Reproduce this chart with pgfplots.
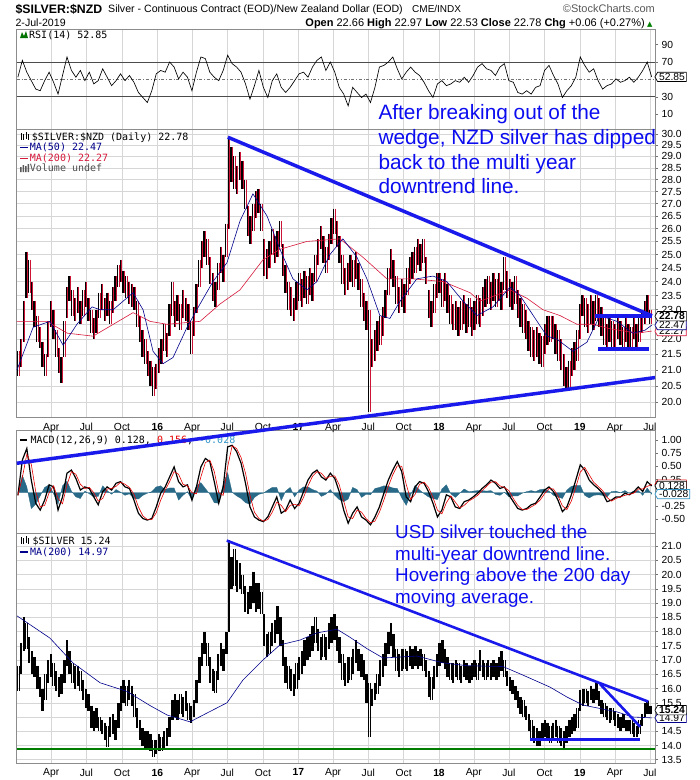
\documentclass[border=0pt]{standalone}
\usepackage{pgfplots}
\pgfplotsset{compat=1.18}
\usepackage{pgfplotstable}
\usepackage{fontspec}
\setmainfont{Liberation Sans}
\newfontfamily\legfont{DejaVu Sans Mono}
\newfontfamily\symfont{DejaVu Sans}
\usetikzlibrary{shapes.symbols}

\definecolor{trend}{RGB}{25,25,235}
\definecolor{maA}{RGB}{0,0,140}
\definecolor{maB}{RGB}{215,25,60}
\definecolor{barred}{RGB}{205,20,55}
\definecolor{histc}{RGB}{40,105,135}
\definecolor{gridc}{RGB}{214,214,214}
\definecolor{annot}{RGB}{12,12,240}
\definecolor{supp}{RGB}{0,125,0}
\definecolor{sigc}{RGB}{230,0,0}
\definecolor{histtxt}{RGB}{50,150,200}

\pgfplotsset{
  panel/.style={
    scale only axis, width=638.3pt,
    xmin=0.1, xmax=236.5,
    axis line style={draw=black!45, line width=0.6pt},
    xtick={12.9,25.9,39.1,52.2,65.1,78.1,91.3,104.4,117.3,130.3,143.4,156.5,169.4,182.4,195.6,208.7,221.6,234.6},
    xticklabels={},
    xmajorgrids,
    grid style={draw=gridc, line width=0.5pt},
    xtick style={draw=none},
    ytick pos=right, yticklabel pos=right,
    ytick style={draw=black!55, line width=0.5pt},
    major tick length=3pt, tick align=outside,
    tick label style={font=\fontsize{10.3}{12}\selectfont, text=black},
    anchor=north west,
  },
  datelabels/.style={
    xticklabels={Apr,Jul,Oct,\textbf{16},Apr,Jul,Oct,\textbf{17},Apr,Jul,Oct,\textbf{18},Apr,Jul,Oct,\textbf{19},Apr,Jul},
    xticklabel style={yshift=1pt},
  },
  hlbars/.style 2 args={draw=none, mark=none, forget plot,
    error bars/.cd, y dir=minus, y explicit, error mark=none,
    error bar style={draw=#1, line width=#2, solid}},
}
\tikzset{tagst/.style={fill=white, signal, signal to=west, signal pointer angle=120, inner xsep=1.5pt, inner ysep=1pt, line width=0.7pt, anchor=west, text=black}}
\newcommand{\vtag}[4]{\node[tagst, draw=#1, font=\fontsize{10.3}{11}\selectfont#4] at (654.5pt,-#2pt) {#3};}
\newcommand{\leg}[4]{\node[anchor=base west, inner sep=0pt, text=#1, font=\legfont\fontsize{10}{12}\selectfont] at (#2pt,-#3pt) {#4};}

\pgfplotstableread{
lo hi
20.8 21.6
21.1 22.0
21.9 23.3
23.4 25.1
23.6 24.8
23.0 24.0
22.4 23.3
21.9 22.8
21.7 22.4
21.1 21.9
20.8 21.5
21.4 22.6
22.4 23.3
22.0 23.0
21.4 22.3
20.9 21.7
20.6 21.4
21.4 22.6
22.7 23.8
23.3 24.2
22.8 23.7
22.6 23.4
22.9 23.8
22.5 23.3
22.8 23.7
23.1 24.0
22.6 23.4
22.2 23.0
22.0 22.7
22.2 23.0
22.7 23.6
23.0 23.9
22.6 23.4
22.8 23.6
22.5 23.3
22.9 23.8
23.3 24.2
23.8 24.6
24.0 24.8
23.6 24.4
23.4 24.2
23.2 24.0
23.1 23.9
23.0 23.8
22.4 23.3
21.9 22.8
21.4 22.3
21.2 22.0
20.8 21.6
20.5 21.3
20.2 21.1
20.4 21.2
20.9 21.7
21.2 22.0
21.6 22.5
21.4 22.2
22.1 23.2
22.8 24.0
22.4 23.3
22.6 23.5
22.3 23.2
22.7 23.7
22.6 23.4
22.3 23.2
21.5 22.6
22.1 23.1
22.9 23.9
23.8 24.8
24.5 25.5
24.9 25.9
24.6 25.6
23.9 24.9
23.3 24.3
23.1 24.0
23.7 24.7
24.3 25.3
24.0 25.0
24.9 26.2
26.0 29.85
27.9 29.4
27.6 29.0
27.4 28.6
28.0 29.2
27.6 28.8
26.8 28.0
25.7 26.9
25.4 26.5
25.9 27.0
26.4 27.5
26.6 27.6
25.9 27.0
24.2 25.6
24.1 25.2
24.5 25.5
25.0 26.0
24.7 25.7
24.9 25.9
25.3 26.3
24.2 25.4
23.6 24.6
23.0 24.0
22.8 23.8
22.6 23.4
23.0 24.0
23.3 24.3
23.1 24.1
23.4 24.4
23.2 24.2
23.5 24.5
23.3 24.3
24.0 25.0
24.6 25.6
25.2 26.1
24.7 25.7
24.3 25.3
24.8 25.8
25.4 26.4
25.8 26.8
25.3 26.3
24.7 25.7
23.9 25.0
23.5 24.5
23.7 24.7
24.0 25.0
23.8 24.8
24.1 25.1
23.7 24.7
23.1 24.1
22.6 23.6
22.3 23.3
19.7 23.0
21.1 22.0
21.3 22.3
21.6 22.6
21.8 22.8
22.1 23.1
22.7 23.7
23.5 24.5
24.1 25.2
23.8 24.8
23.2 24.2
22.9 23.8
23.1 24.1
22.9 23.9
23.5 24.5
23.9 24.9
24.1 25.1
24.3 25.3
24.6 25.6
24.4 25.4
24.7 25.6
23.9 24.9
22.7 23.7
22.4 23.3
22.9 23.9
23.4 24.3
23.6 24.3
23.1 24.1
23.3 24.3
22.9 23.9
22.5 23.5
22.3 23.2
22.3 23.3
22.1 23.1
22.3 23.3
22.5 23.5
22.2 23.2
22.4 23.4
22.1 23.1
22.3 23.3
22.5 23.5
22.4 23.4
22.8 23.8
23.1 24.1
23.2 24.2
23.0 24.0
23.3 24.3
23.1 24.1
23.3 24.3
23.0 24.0
23.7 24.9
23.4 24.4
23.1 24.1
23.0 24.0
23.2 24.2
22.7 23.7
22.4 23.4
22.2 23.2
22.0 23.0
21.6 22.6
21.4 22.4
21.3 22.3
21.4 22.4
21.2 22.2
21.1 22.1
21.5 22.5
21.8 22.8
21.9 22.8
22.0 22.8
21.5 22.5
21.3 22.3
21.0 22.0
20.5 21.5
20.35 21.1
20.4 21.3
20.8 21.7
21.0 21.9
21.3 22.3
22.0 23.2
22.8 23.5
22.4 23.4
22.2 23.2
22.5 23.5
22.3 23.3
22.6 23.5
22.4 23.4
22.1 23.1
21.8 22.7
21.7 22.5
21.9 22.8
21.7 22.6
21.7 22.5
22.0 22.8
21.8 22.6
21.7 22.4
21.9 22.7
21.7 22.5
21.7 22.4
22.0 22.8
21.7 22.5
21.9 22.7
22.2 23.0
22.5 23.3
22.8 23.5
22.5 23.0
}\nzd

\pgfplotstableread{
lo hi
15.9 16.8
16.5 17.6
17.3 18.5
17.4 18.3
16.9 17.8
16.5 17.3
16.4 17.1
16.0 16.8
15.7 16.4
15.2 16.0
15.6 16.5
16.2 17.0
16.4 17.2
16.1 16.9
15.9 16.6
15.7 16.4
15.8 16.5
16.2 17.0
16.8 17.7
16.5 17.3
16.2 16.9
16.0 16.8
16.1 16.8
15.9 16.6
15.6 16.3
15.3 16.0
15.2 15.8
14.6 15.4
14.5 15.2
14.6 15.3
14.5 15.0
14.4 14.9
14.2 14.8
13.95 14.7
14.3 15.0
14.4 15.1
14.2 14.9
14.6 15.5
15.2 16.1
15.5 16.3
15.4 16.1
15.6 16.3
15.4 16.1
15.0 15.8
14.6 15.3
14.2 14.9
14.0 14.6
13.9 14.5
13.9 14.5
13.8 14.4
13.6 14.2
13.7 14.2
13.8 14.4
13.8 14.3
13.9 14.5
14.0 14.6
14.3 15.0
14.9 15.6
15.0 15.8
14.9 15.6
15.1 15.8
15.0 15.7
15.2 15.9
14.9 15.5
14.8 15.4
15.0 15.6
15.5 16.3
16.2 17.1
16.8 17.6
17.2 18.0
16.8 17.6
16.2 17.1
15.9 16.7
15.85 16.6
16.3 17.2
16.8 17.6
16.6 17.4
17.2 18.0
18.0 21.2
19.5 20.6
19.6 20.9
19.4 20.5
19.5 20.4
19.3 20.0
18.7 19.6
18.6 19.4
18.8 19.6
19.0 20.1
18.7 19.7
18.8 19.7
18.6 19.4
17.5 18.6
17.1 17.9
17.2 18.0
17.5 18.3
17.6 18.4
17.9 18.9
17.5 18.5
16.8 17.7
16.2 17.1
16.0 16.8
15.9 16.7
15.75 16.5
16.0 16.9
16.3 17.1
16.5 17.3
16.8 17.7
17.0 17.8
17.1 17.9
17.3 18.2
17.6 18.5
17.3 18.1
17.0 17.8
17.1 17.9
17.0 17.8
17.4 18.3
17.6 18.5
17.7 18.6
17.3 18.2
16.9 17.8
16.3 17.2
16.1 16.9
16.2 17.1
16.3 17.1
16.5 17.4
16.9 17.7
16.6 17.4
16.4 17.2
16.3 17.0
15.5 16.5
14.3 16.2
15.4 16.0
15.6 16.2
15.8 16.5
16.1 17.0
16.4 17.2
16.8 17.6
17.2 18.0
17.5 18.3
17.1 17.9
16.6 17.4
16.4 17.2
16.6 17.4
16.7 17.4
16.6 17.3
16.8 17.5
16.7 17.4
16.8 17.5
16.7 17.3
16.8 17.4
16.6 17.2
16.4 17.0
15.7 16.6
15.6 16.4
16.0 16.8
16.4 17.2
16.8 17.6
16.9 17.7
16.7 17.4
16.4 17.1
16.3 16.9
16.2 16.9
16.4 17.0
16.3 16.9
16.2 16.8
16.4 17.0
16.3 16.9
16.2 16.8
16.3 16.9
16.4 17.0
16.3 16.9
16.6 17.35
16.4 17.0
16.3 16.9
16.4 17.0
16.3 16.9
16.4 17.0
16.3 16.9
16.4 17.1
16.6 17.3
16.4 17.0
16.1 16.6
15.9 16.4
15.8 16.3
15.6 16.1
15.3 15.9
15.1 15.7
15.0 15.6
14.9 15.4
14.5 15.1
14.2 14.9
14.1 14.7
14.0 14.6
14.0 14.5
14.2 14.8
14.3 14.9
14.2 14.8
14.1 14.7
14.2 14.8
14.3 14.9
14.1 14.7
14.0 14.6
13.85 14.5
14.1 14.7
14.3 14.9
14.4 15.0
14.5 15.1
14.6 15.3
15.2 15.95
15.4 16.0
15.5 16.0
15.4 15.9
15.6 16.1
15.5 16.0
15.6 16.2
15.4 15.9
15.1 15.6
15.0 15.5
14.9 15.4
14.8 15.3
14.9 15.3
14.7 15.2
14.6 15.1
14.5 15.0
14.6 15.1
14.5 14.9
14.5 14.9
14.4 14.9
14.3 14.8
14.3 14.7
14.4 14.9
14.7 15.1
15.0 15.5
15.1 15.55
15.1 15.4
}\usd

\pgfplotstableread{
v
52.5
71.9
58.3
48.6
38.9
37.0
48.6
58.3
46.7
33.1
54.5
75.8
60.3
52.5
60.3
48.6
58.3
44.8
48.6
62.2
52.5
42.8
48.6
56.4
48.6
54.5
46.7
35.0
29.2
23.4
37.0
56.4
60.3
58.3
70.0
64.2
50.6
58.3
52.5
37.0
58.3
75.8
73.9
58.3
52.5
48.6
60.3
77.8
68.1
64.2
58.3
44.8
27.3
42.8
60.3
40.9
29.2
48.6
56.4
40.9
35.0
40.9
48.6
56.4
58.3
52.5
64.2
71.9
75.8
60.3
70.0
58.3
40.9
33.1
19.5
40.9
35.0
29.2
33.1
23.4
40.9
64.2
66.1
70.0
75.8
62.2
50.6
58.3
64.2
58.3
54.5
46.7
37.0
29.2
44.8
48.6
42.8
44.8
48.6
46.7
52.5
46.7
54.5
64.2
68.1
62.2
60.3
54.5
64.2
68.1
48.6
46.7
35.0
33.1
37.0
33.1
40.9
42.8
60.3
66.1
54.5
44.8
29.2
37.0
42.8
52.5
75.8
66.1
58.3
62.2
48.6
38.9
42.8
44.8
50.6
46.7
48.6
52.5
46.7
52.5
60.3
70.0
52.85
}\rsi

\pgfplotstableread{
m s h
-0.05 -0.05 0.00
0.62 0.29 0.33
0.84 0.73 0.11
0.24 0.54 -0.30
-0.20 0.02 -0.22
-0.33 -0.27 -0.06
-0.14 -0.24 0.10
0.15 0.00 0.15
0.11 0.13 -0.02
-0.33 -0.11 -0.22
-0.08 -0.21 0.13
0.37 0.15 0.22
0.43 0.40 0.03
0.27 0.35 -0.08
0.05 0.16 -0.11
0.11 0.08 0.03
0.08 0.10 -0.02
-0.08 0.00 -0.08
-0.23 -0.16 -0.07
0.02 -0.11 0.13
0.11 0.07 0.04
0.05 0.08 -0.03
0.18 0.12 0.06
0.21 0.20 0.01
0.11 0.16 -0.05
0.08 0.10 -0.02
-0.14 -0.03 -0.11
-0.39 -0.27 -0.12
-0.49 -0.44 -0.05
-0.52 -0.51 -0.01
-0.49 -0.51 0.02
-0.27 -0.38 0.11
-0.01 -0.14 0.13
0.11 0.05 0.06
0.30 0.21 0.09
0.49 0.40 0.09
0.21 0.35 -0.14
0.11 0.16 -0.05
0.15 0.13 0.02
-0.14 0.00 -0.14
0.11 -0.02 0.13
0.49 0.30 0.19
0.65 0.57 0.08
0.59 0.62 -0.03
0.21 0.40 -0.19
-0.20 0.00 -0.20
0.11 -0.05 0.16
0.87 0.49 0.38
0.90 0.89 0.01
0.78 0.84 -0.06
0.56 0.67 -0.11
0.18 0.37 -0.19
-0.27 -0.05 -0.22
-0.46 -0.37 -0.09
-0.52 -0.49 -0.03
-0.55 -0.54 -0.01
-0.46 -0.51 0.05
-0.27 -0.37 0.10
-0.08 -0.18 0.10
-0.39 -0.24 -0.15
-0.33 -0.36 0.03
-0.14 -0.24 0.10
-0.30 -0.22 -0.08
-0.20 -0.25 0.05
0.02 -0.09 0.11
0.24 0.13 0.11
0.37 0.31 0.06
0.43 0.40 0.03
0.30 0.37 -0.07
0.24 0.27 -0.03
0.37 0.31 0.06
0.27 0.32 -0.05
0.02 0.15 -0.13
-0.33 -0.16 -0.17
-0.58 -0.46 -0.12
-0.39 -0.49 0.10
-0.27 -0.33 0.06
-0.46 -0.37 -0.09
-0.52 -0.49 -0.03
-0.61 -0.57 -0.04
-0.46 -0.54 0.08
-0.27 -0.37 0.10
-0.01 -0.14 0.13
0.24 0.12 0.12
0.43 0.34 0.09
0.59 0.51 0.08
0.40 0.50 -0.10
-0.08 0.16 -0.24
-0.17 -0.13 -0.04
0.11 -0.03 0.14
0.21 0.16 0.05
0.18 0.20 -0.02
0.02 0.10 -0.08
-0.20 -0.09 -0.11
-0.46 -0.33 -0.13
-0.33 -0.40 0.07
-0.04 -0.19 0.15
-0.08 -0.06 -0.02
-0.27 -0.18 -0.09
-0.30 -0.29 -0.01
-0.17 -0.24 0.07
-0.14 -0.16 0.02
-0.08 -0.11 0.03
-0.01 -0.05 0.04
0.08 0.04 0.04
0.15 0.12 0.03
0.24 0.20 0.04
0.18 0.21 -0.03
0.08 0.13 -0.05
0.11 0.10 0.01
-0.04 0.04 -0.08
-0.17 -0.11 -0.06
-0.30 -0.24 -0.06
-0.33 -0.32 -0.01
-0.30 -0.32 0.02
-0.23 -0.27 0.04
-0.20 -0.22 0.02
-0.08 -0.14 0.06
0.05 -0.02 0.07
0.11 0.08 0.03
0.02 0.07 -0.05
-0.14 -0.06 -0.08
-0.36 -0.25 -0.11
-0.27 -0.32 0.05
-0.04 -0.16 0.12
0.24 0.10 0.14
0.53 0.39 0.14
0.43 0.48 -0.05
0.24 0.34 -0.10
0.15 0.20 -0.05
0.08 0.12 -0.04
-0.01 0.04 -0.05
-0.17 -0.09 -0.08
-0.14 -0.16 0.02
-0.08 -0.11 0.03
-0.08 -0.08 0.00
-0.01 -0.05 0.04
-0.04 -0.03 -0.01
0.02 -0.01 0.03
0.11 0.07 0.04
0.02 0.07 -0.05
0.21 0.12 0.09
0.128 0.156 -0.028
}\macd

\begin{document}
\begin{tikzpicture}
\useasboundingbox (0,0) rectangle (700pt,-780pt);
\fill[white] (0,0) rectangle (700pt,-780pt);

% ---------------- RSI panel ----------------
\begin{axis}[panel, at={(16.7pt,-29.3pt)}, height=100.2pt,
  ymin=-7.6, ymax=107.6, ytick={10,30,70,90}, yticklabels={10,30,70,90}]
\addplot[black!70, line width=0.8pt] coordinates {(0.1,70) (236.5,70)};
\addplot[black!70, line width=0.8pt] coordinates {(0.1,30) (236.5,30)};
\addplot[black!55, line width=0.6pt, dash dot] coordinates {(0.1,50) (236.5,50)};
\addplot[black, line width=0.65pt] table[x expr=0.54+1.653*\coordindex, y=v] {\rsi};
\end{axis}

% ---------------- MACD panel ----------------
\begin{axis}[panel, at={(16.7pt,-430.7pt)}, height=102.6pt,
  ymin=-0.771, ymax=1.177, ytick={-0.5,-0.25,0.25,0.5,0.75,1},
  yticklabels={-0.50,-0.25,0.25,0.50,0.75,1.00}]
\addplot[fill=histc, draw=histc, line width=0.3pt] table[x expr=0.54+1.653*\coordindex, y=h] {\macd} \closedcycle;
\addplot[black, line width=1.2pt] table[x expr=0.54+1.653*\coordindex, y=m] {\macd};
\addplot[sigc, line width=0.6pt] table[x expr=0.54+1.653*\coordindex, y=s] {\macd};
\end{axis}
\draw[black, line width=2pt] (20pt,-440pt) -- (27pt,-440pt);
\node[anchor=base west, inner sep=0pt, font=\legfont\fontsize{10}{12}\selectfont] at (30.4pt,-443.6pt) {MACD(12,26,9) 0.128, \textcolor{sigc}{0.156}, \textcolor{histtxt}{-0.028}};

% ---------------- USD panel ----------------
\begin{axis}[panel, datelabels, at={(16.7pt,-533.3pt)}, height=230pt,
  ymin=13.375, ymax=21.446, ymajorgrids,
  ytick={13.5,14,14.5,15,15.5,16,16.5,17,17.5,18,18.5,19,19.5,20,20.5,21},
  yticklabels={13.5,14.0,14.5,,15.5,16.0,16.5,17.0,17.5,18.0,18.5,19.0,19.5,20.0,20.5,21.0}]
\addplot[hlbars={black}{1.2pt}]
  table[x expr=\coordindex+0.5, y=hi, y error expr=\thisrow{hi}-\thisrow{lo}] {\usd};
\addplot[hlbars={black}{1.1pt}]
  table[x expr=\coordindex+1.0, y=hi, y error expr=\thisrow{hi}-\thisrow{lo}] {\usd};
\addplot[maA, line width=0.6pt] coordinates {(0.2,18.55) (12.4,17.77) (20.9,16.9) (31.0,16.2) (40.9,15.9) (49.5,15.4) (55.8,15.07) (64.3,14.83) (70.6,15.14) (78.0,15.5) (83.9,16.3) (91.3,17.0) (97.6,17.53) (105.0,17.7) (111.3,17.95) (118.7,18.08) (123.5,17.8) (129.8,17.4) (135.8,17.07) (148.3,17.14) (158.0,16.9) (166.9,16.8) (180.2,16.77) (187.6,16.47) (197.6,16.05) (203.9,15.7) (209.8,15.42) (222.4,15.18) (228.3,15.0) (235.3,14.97)};
\addplot[supp, line width=2pt] coordinates {(0.1,13.88) (236.5,13.88)};
\addplot[trend, line width=2.6pt] coordinates {(77.9,21.19) (234.0,15.54)};
\addplot[trend, line width=2.6pt] coordinates {(216.1,16.16) (231.0,14.66)};
\addplot[trend, line width=2.6pt] coordinates {(190.2,14.22) (231.0,14.22)};
\end{axis}
\draw[black, line width=0.8pt] (21pt,-537pt) -- (21pt,-544pt) (23.5pt,-538pt) -- (23.5pt,-544pt) (26pt,-536pt) -- (26pt,-543pt) (28.5pt,-538pt) -- (28.5pt,-544pt);
\leg{black}{32.3}{544.3}{\$SILVER 15.24}
\draw[maA, line width=1.6pt] (20pt,-551.7pt) -- (28pt,-551.7pt);
\leg{maA}{30}{555.3}{MA(200) 14.97}

% ---------------- NZD panel ----------------
\begin{axis}[panel, datelabels, at={(16.7pt,-129.5pt)}, height=288pt, clip=false,
  ymode=log, ymin=19.546, ymax=30.20, ymajorgrids,
  ytick={20,20.5,21,21.5,22,22.5,23,23.5,24,24.5,25,25.5,26,26.5,27,27.5,28,28.5,29,29.5,30},
  yticklabels={20.0,20.5,21.0,21.5,22.0,,23.0,23.5,24.0,24.5,25.0,25.5,26.0,26.5,27.0,27.5,28.0,28.5,29.0,29.5,30.0}]
\addplot[hlbars={black}{1.3pt}]
  table[x expr=\coordindex+0.5, y=hi, y error expr=\thisrow{hi}-\thisrow{lo}] {\nzd};
\addplot[hlbars={barred}{0.8pt}]
  table[x expr=\coordindex+1.0, y=hi, y error expr=\thisrow{hi}-\thisrow{lo}] {\nzd};
\addplot[maB, line width=0.6pt] coordinates {(0.2,22.6) (11.3,22.6) (18.8,22.2) (28.4,22.1) (43.2,22.9) (49.5,22.6) (55.8,22.5) (68.0,22.6) (75.4,23.2) (82.8,23.7) (91.3,24.8) (97.6,25.2) (107.6,25.5) (119.8,25.6) (128.3,24.9) (137.2,24.1) (146.8,24.1) (158.0,24.0) (168.0,23.6) (171.7,23.3) (182.8,23.7) (189.1,23.4) (195.0,23.0) (201.3,22.8) (207.6,22.5) (213.5,22.5) (219.8,22.35) (229.8,22.2) (235.3,22.27)};
\addplot[maA, line width=0.6pt] coordinates {(0.2,21.0) (6.2,22.4) (12.4,22.6) (17.3,21.8) (22.4,22.5) (28.0,23.1) (31.0,23.0) (35.8,23.0) (43.2,23.6) (46.9,23.0) (50.6,21.6) (54.3,21.2) (58.0,21.4) (63.2,22.4) (68.0,23.2) (72.8,24.0) (78.0,24.7) (82.8,26.3) (87.6,27.4) (92.8,26.5) (97.6,25.2) (102.4,24.1) (107.6,23.7) (111.3,24.0) (116.1,25.0) (120.9,25.6) (126.1,24.9) (129.8,24.1) (134.6,22.8) (138.3,22.7) (142.1,23.3) (148.3,24.1) (154.3,24.2) (159.4,24.0) (165.4,23.3) (170.6,22.8) (176.5,23.1) (182.8,23.8) (186.5,23.5) (191.4,22.8) (196.5,22.1) (200.2,22.0) (206.1,21.6) (211.3,21.9) (216.1,22.8) (222.4,22.6) (228.3,22.2) (232.8,22.3) (235.3,22.47)};
\addplot[trend, line width=3.5pt] coordinates {(78.3,29.85) (235.4,22.79)};
\addplot[trend, line width=3.5pt] coordinates {(214.3,22.79) (235.4,22.79)};
\addplot[trend, line width=3.5pt] coordinates {(215.5,21.67) (234.3,21.67)};
\addplot[trend, line width=3.5pt] coordinates {(0.1,18.24) (236.5,20.76)};
\end{axis}
\draw[black, line width=0.8pt] (21pt,-133pt) -- (21pt,-140pt) (23.5pt,-134pt) -- (23.5pt,-140pt) (26pt,-132pt) -- (26pt,-139pt) (28.5pt,-134pt) -- (28.5pt,-140pt);
\leg{black}{31.7}{140.3}{\$SILVER:\$NZD (Daily) 22.78}
\draw[maA, line width=1.6pt] (20pt,-147.3pt) -- (28pt,-147.3pt);
\leg{maA}{29.7}{150.9}{MA(50) 22.47}
\draw[maB, line width=1.6pt] (20pt,-158.3pt) -- (28pt,-158.3pt);
\leg{maB}{29.7}{161.9}{MA(200) 22.27}
\fill[black!65] (20pt,-172pt) rectangle (21.5pt,-167pt) (22.5pt,-172pt) rectangle (24pt,-165pt) (25pt,-172pt) rectangle (26.5pt,-166pt) (27.5pt,-172pt) rectangle (29pt,-164pt);
\leg{black!70}{29.7}{171.9}{Volume undef}

% RSI legend
\fill[black!55!green] (20pt,-38pt) -- (22pt,-32pt) -- (24pt,-36pt) -- (26pt,-31pt) -- (28pt,-38pt) -- cycle;
\leg{black}{29}{38.3}{RSI(14) 52.85}

% ---------------- header ----------------
\node[anchor=base west, inner sep=0pt, font=\fontsize{12.3}{14}\selectfont\bfseries] at (15.4pt,-13.4pt) {\$SILVER:\$NZD};
\node[anchor=base west, inner sep=0pt, font=\fontsize{10.6}{12}\selectfont] at (108pt,-12.8pt) {Silver - Continuous Contract (EOD)/New Zealand Dollar (EOD)};
\node[anchor=base west, inner sep=0pt, font=\fontsize{10}{11}\selectfont] at (412pt,-12.8pt) {CME/INDX};
\node[anchor=base east, inner sep=0pt, text=black!65, font=\fontsize{11}{12}\selectfont] at (655pt,-12.8pt) {\textcopyright StockCharts.com};
\node[anchor=base west, inner sep=0pt, font=\fontsize{10.6}{12}\selectfont] at (15.4pt,-26.4pt) {2-Jul-2019};
\node[anchor=base east, inner sep=0pt, font=\fontsize{11}{12}\selectfont] at (645pt,-26.4pt) {\textbf{Open} 22.66 \textbf{High} 22.97 \textbf{Low} 22.53 \textbf{Close} 22.78 \textbf{Chg} +0.06 (+0.27\%)};
\node[anchor=base west, inner sep=0pt, text=black!50!green, font=\symfont\fontsize{7}{8}\selectfont] at (647pt,-26pt) {▲};

% ---------------- value tags ----------------
\vtag{black}{76.9}{52.85}{}
\vtag{maB}{331.2}{22.27}{}
\vtag{maA}{325.2}{22.47}{}
\vtag{black}{316.2}{22.78}{\bfseries}
\vtag{sigc}{484.5}{\phantom{0.156}}{}
\vtag{black}{485.9}{0.128}{}
\vtag{histtxt}{494.1}{-0.028}{}
\vtag{maA}{717.9}{14.97}{}
\vtag{black}{710.2}{15.24}{\bfseries}

% ---------------- annotations ----------------
\begin{scope}[every node/.style={anchor=base west, inner sep=0pt, text=annot, font=\fontsize{20.8}{24}\selectfont}]
\node at (378.3pt,-119.2pt) {After breaking out of the};
\node at (378.3pt,-144.2pt) {wedge, NZD silver has dipped};
\node at (378.3pt,-169.2pt) {back to the multi year};
\node at (378.3pt,-193.2pt) {downtrend line.};
\end{scope}
\begin{scope}[every node/.style={anchor=base west, inner sep=0pt, text=annot, font=\fontsize{18.8}{22}\selectfont}]
\node at (395pt,-538.5pt) {USD silver touched the};
\node at (395pt,-560.1pt) {multi-year downtrend line.};
\node at (395pt,-581.8pt) {Hovering above the 200 day};
\node at (395pt,-603.5pt) {moving average.};
\end{scope}
\end{tikzpicture}
\end{document}
